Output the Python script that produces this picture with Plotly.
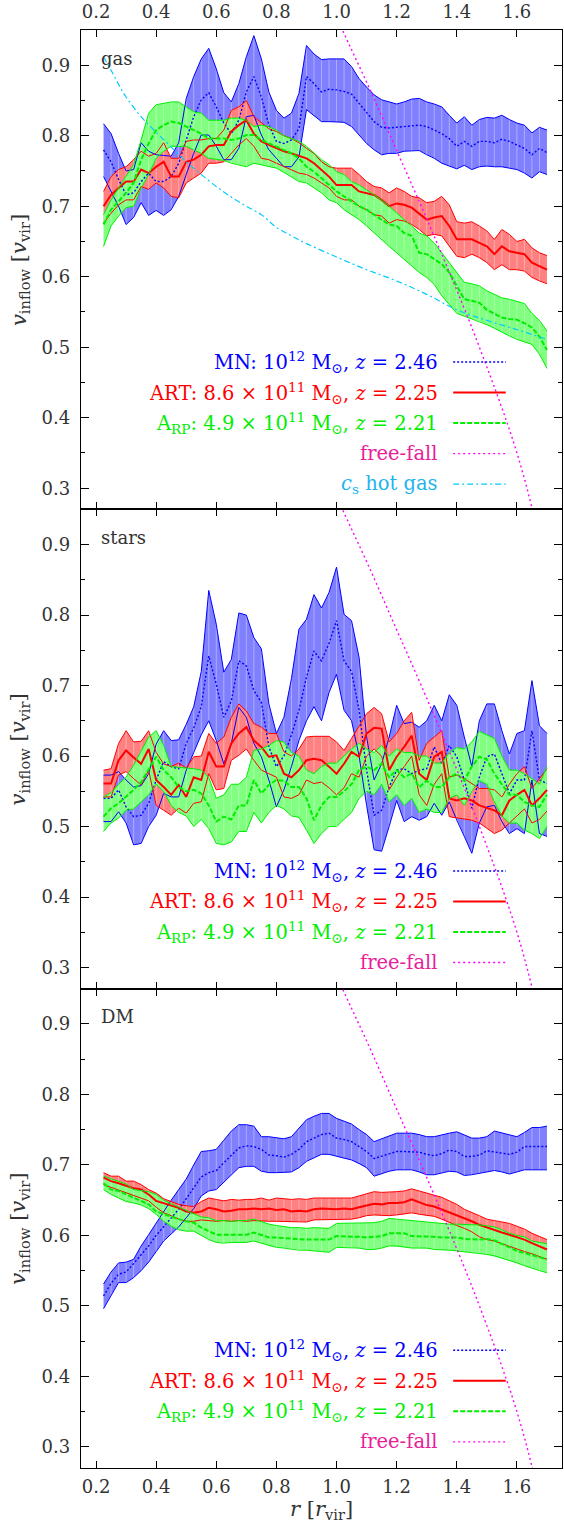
import plotly.graph_objects as go

# ---------------- data ----------------
r = [0.225, 0.250, 0.275, 0.300, 0.325, 0.350, 0.375, 0.400, 0.425, 0.450,
     0.475, 0.500, 0.525, 0.550, 0.575, 0.600, 0.625, 0.650, 0.675, 0.700,
     0.725, 0.750, 0.775, 0.800, 0.825, 0.850, 0.875, 0.900, 0.925, 0.950,
     0.975, 1.000, 1.025, 1.050, 1.075, 1.100, 1.125, 1.150, 1.175, 1.200,
     1.225, 1.250, 1.275, 1.300, 1.325, 1.350, 1.375, 1.400, 1.425, 1.450,
     1.475, 1.500, 1.525, 1.550, 1.575, 1.600, 1.625, 1.650, 1.675, 1.700]

# gas
gas_blue_hi = [0.817, 0.803, 0.775, 0.750, 0.752, 0.790, 0.778, 0.773, 0.772, 0.771,
               0.790, 0.853, 0.884, 0.909, 0.924, 0.895, 0.861, 0.848, 0.874, 0.912,
               0.942, 0.909, 0.862, 0.836, 0.825, 0.832, 0.860, 0.928, 0.916, 0.908,
               0.909, 0.909, 0.909, 0.898, 0.881, 0.869, 0.858, 0.851, 0.848, 0.845,
               0.848, 0.852, 0.853, 0.848, 0.845, 0.841, 0.829, 0.818, 0.827, 0.815,
               0.823, 0.826, 0.825, 0.829, 0.823, 0.818, 0.815, 0.804, 0.812, 0.808]
gas_blue_mid = [0.780, 0.763, 0.738, 0.716, 0.719, 0.735, 0.747, 0.735, 0.735, 0.742,
                0.761, 0.794, 0.827, 0.851, 0.861, 0.841, 0.818, 0.803, 0.822, 0.862,
                0.884, 0.855, 0.815, 0.792, 0.789, 0.794, 0.810, 0.884, 0.874, 0.862,
                0.866, 0.865, 0.863, 0.859, 0.846, 0.832, 0.820, 0.812, 0.811, 0.812,
                0.813, 0.815, 0.815, 0.813, 0.808, 0.803, 0.796, 0.785, 0.792, 0.785,
                0.792, 0.792, 0.790, 0.795, 0.792, 0.787, 0.782, 0.773, 0.782, 0.776]
gas_blue_lo = [0.742, 0.721, 0.700, 0.674, 0.684, 0.705, 0.687, 0.694, 0.687, 0.695,
               0.714, 0.745, 0.775, 0.801, 0.801, 0.785, 0.766, 0.766, 0.782, 0.827,
               0.829, 0.801, 0.780, 0.768, 0.756, 0.756, 0.770, 0.837, 0.829, 0.820,
               0.820, 0.820, 0.819, 0.813, 0.801, 0.789, 0.780, 0.773, 0.775, 0.775,
               0.778, 0.779, 0.779, 0.773, 0.768, 0.761, 0.757, 0.753, 0.758, 0.752,
               0.756, 0.757, 0.756, 0.756, 0.754, 0.752, 0.747, 0.740, 0.749, 0.745]

gas_red_hi = [0.721, 0.742, 0.752, 0.756, 0.766, 0.778, 0.771, 0.775, 0.790, 0.768,
              0.768, 0.792, 0.794, 0.794, 0.796, 0.796, 0.808, 0.836, 0.841, 0.850,
              0.827, 0.818, 0.810, 0.806, 0.800, 0.796, 0.790, 0.782, 0.775, 0.763,
              0.756, 0.754, 0.754, 0.754, 0.745, 0.735, 0.728, 0.726, 0.719, 0.726,
              0.721, 0.714, 0.712, 0.705, 0.707, 0.714, 0.702, 0.678, 0.676, 0.678,
              0.672, 0.665, 0.653, 0.667, 0.660, 0.650, 0.653, 0.641, 0.634, 0.630]
gas_red_mid = [0.700, 0.716, 0.726, 0.735, 0.735, 0.752, 0.747, 0.756, 0.763, 0.742,
               0.742, 0.763, 0.766, 0.773, 0.785, 0.787, 0.787, 0.806, 0.815, 0.822,
               0.803, 0.792, 0.787, 0.782, 0.778, 0.775, 0.771, 0.768, 0.761, 0.752,
               0.742, 0.730, 0.730, 0.730, 0.721, 0.719, 0.716, 0.709, 0.700, 0.704,
               0.702, 0.698, 0.690, 0.681, 0.684, 0.686, 0.672, 0.653, 0.653, 0.653,
               0.648, 0.643, 0.632, 0.643, 0.636, 0.634, 0.632, 0.620, 0.615, 0.610]
gas_red_lo = [0.676, 0.690, 0.702, 0.709, 0.709, 0.728, 0.724, 0.733, 0.726, 0.714,
              0.712, 0.733, 0.740, 0.747, 0.761, 0.761, 0.763, 0.775, 0.787, 0.796,
              0.785, 0.768, 0.766, 0.761, 0.756, 0.752, 0.747, 0.745, 0.740, 0.733,
              0.726, 0.714, 0.709, 0.709, 0.700, 0.695, 0.688, 0.686, 0.676, 0.681,
              0.679, 0.674, 0.667, 0.658, 0.660, 0.658, 0.643, 0.629, 0.627, 0.632,
              0.627, 0.620, 0.610, 0.617, 0.610, 0.610, 0.608, 0.599, 0.594, 0.590]

gas_green_hi = [0.688, 0.709, 0.726, 0.742, 0.759, 0.794, 0.832, 0.844, 0.846, 0.848,
                0.848, 0.841, 0.834, 0.832, 0.822, 0.822, 0.822, 0.825, 0.825, 0.822,
                0.813, 0.815, 0.813, 0.808, 0.800, 0.796, 0.792, 0.785, 0.775, 0.766,
                0.759, 0.749, 0.745, 0.735, 0.730, 0.723, 0.716, 0.709, 0.700, 0.690,
                0.681, 0.672, 0.662, 0.658, 0.648, 0.634, 0.620, 0.606, 0.592, 0.590,
                0.587, 0.580, 0.575, 0.570, 0.568, 0.565, 0.562, 0.548, 0.538, 0.523]
gas_green_mid = [0.674, 0.695, 0.707, 0.719, 0.733, 0.766, 0.789, 0.808, 0.815, 0.820,
                 0.818, 0.813, 0.808, 0.803, 0.796, 0.796, 0.796, 0.794, 0.796, 0.801,
                 0.801, 0.794, 0.789, 0.785, 0.780, 0.775, 0.768, 0.756, 0.749, 0.740,
                 0.730, 0.721, 0.714, 0.707, 0.700, 0.695, 0.688, 0.681, 0.674, 0.672,
                 0.662, 0.658, 0.634, 0.632, 0.625, 0.618, 0.606, 0.588, 0.568, 0.566,
                 0.563, 0.553, 0.547, 0.542, 0.540, 0.539, 0.534, 0.528, 0.515, 0.496]
gas_green_lo = [0.643, 0.672, 0.686, 0.698, 0.700, 0.726, 0.745, 0.768, 0.778, 0.785,
                0.785, 0.785, 0.780, 0.775, 0.768, 0.766, 0.765, 0.761, 0.759, 0.756,
                0.761, 0.759, 0.756, 0.754, 0.748, 0.742, 0.735, 0.733, 0.726, 0.719,
                0.709, 0.705, 0.695, 0.688, 0.681, 0.672, 0.662, 0.653, 0.643, 0.634,
                0.625, 0.615, 0.606, 0.599, 0.589, 0.573, 0.560, 0.548, 0.544, 0.540,
                0.537, 0.532, 0.527, 0.521, 0.516, 0.511, 0.507, 0.504, 0.490, 0.470]

# stars
stars_blue_hi = [0.573, 0.573, 0.578, 0.566, 0.556, 0.558, 0.575, 0.617, 0.636, 0.622,
                 0.623, 0.645, 0.670, 0.720, 0.835, 0.787, 0.719, 0.737, 0.803, 0.800,
                 0.768, 0.752, 0.674, 0.632, 0.655, 0.710, 0.780, 0.794, 0.829, 0.810,
                 0.832, 0.868, 0.801, 0.792, 0.740, 0.627, 0.566, 0.589, 0.627, 0.672,
                 0.646, 0.648, 0.641, 0.650, 0.672, 0.650, 0.687, 0.672, 0.627, 0.585,
                 0.650, 0.674, 0.674, 0.636, 0.603, 0.632, 0.636, 0.707, 0.643, 0.632]
stars_blue_mid = [0.540, 0.540, 0.552, 0.528, 0.514, 0.516, 0.533, 0.566, 0.592, 0.585,
                  0.582, 0.618, 0.640, 0.670, 0.742, 0.702, 0.655, 0.678, 0.735, 0.728,
                  0.693, 0.676, 0.613, 0.585, 0.600, 0.630, 0.665, 0.712, 0.749, 0.735,
                  0.760, 0.792, 0.735, 0.720, 0.665, 0.580, 0.516, 0.523, 0.556, 0.580,
                  0.582, 0.575, 0.580, 0.582, 0.613, 0.589, 0.615, 0.599, 0.566, 0.526,
                  0.570, 0.599, 0.603, 0.575, 0.547, 0.566, 0.566, 0.636, 0.566, 0.561]
stars_blue_lo = [0.507, 0.507, 0.521, 0.505, 0.474, 0.476, 0.500, 0.516, 0.547, 0.542,
                 0.542, 0.580, 0.605, 0.630, 0.650, 0.622, 0.589, 0.618, 0.669, 0.655,
                 0.618, 0.599, 0.566, 0.528, 0.552, 0.585, 0.622, 0.650, 0.670, 0.650,
                 0.690, 0.716, 0.665, 0.650, 0.600, 0.530, 0.467, 0.465, 0.500, 0.537,
                 0.507, 0.514, 0.509, 0.514, 0.533, 0.516, 0.535, 0.509, 0.486, 0.462,
                 0.505, 0.528, 0.530, 0.507, 0.490, 0.497, 0.490, 0.566, 0.490, 0.486]

stars_red_hi = [0.580, 0.582, 0.618, 0.636, 0.620, 0.621, 0.636, 0.605, 0.589, 0.585,
                0.590, 0.583, 0.599, 0.600, 0.632, 0.618, 0.627, 0.655, 0.674, 0.664,
                0.646, 0.641, 0.632, 0.632, 0.606, 0.600, 0.610, 0.627, 0.628, 0.628,
                0.628, 0.620, 0.608, 0.625, 0.643, 0.660, 0.669, 0.660, 0.620, 0.632,
                0.650, 0.662, 0.594, 0.618, 0.627, 0.636, 0.570, 0.573, 0.568, 0.561,
                0.554, 0.554, 0.552, 0.542, 0.560, 0.575, 0.585, 0.554, 0.568, 0.582]
stars_red_mid = [0.561, 0.561, 0.594, 0.608, 0.598, 0.589, 0.610, 0.566, 0.556, 0.545,
                 0.559, 0.542, 0.570, 0.566, 0.606, 0.585, 0.585, 0.618, 0.632, 0.641,
                 0.622, 0.613, 0.599, 0.601, 0.575, 0.570, 0.580, 0.594, 0.596, 0.594,
                 0.585, 0.575, 0.589, 0.606, 0.599, 0.632, 0.640, 0.639, 0.580, 0.599,
                 0.613, 0.629, 0.575, 0.566, 0.599, 0.606, 0.540, 0.537, 0.540, 0.537,
                 0.530, 0.526, 0.523, 0.516, 0.537, 0.545, 0.552, 0.530, 0.540, 0.552]
stars_red_lo = [0.542, 0.542, 0.573, 0.578, 0.568, 0.559, 0.580, 0.530, 0.523, 0.516,
                0.526, 0.519, 0.533, 0.535, 0.575, 0.552, 0.554, 0.594, 0.601, 0.610,
                0.594, 0.580, 0.575, 0.570, 0.542, 0.540, 0.545, 0.566, 0.561, 0.563,
                0.555, 0.545, 0.555, 0.575, 0.570, 0.600, 0.610, 0.600, 0.552, 0.570,
                0.585, 0.600, 0.545, 0.530, 0.560, 0.575, 0.514, 0.512, 0.510, 0.509,
                0.505, 0.498, 0.490, 0.495, 0.505, 0.515, 0.525, 0.505, 0.510, 0.522]

stars_green_hi = [0.542, 0.548, 0.560, 0.570, 0.587, 0.608, 0.627, 0.636, 0.615, 0.585,
                  0.584, 0.584, 0.582, 0.580, 0.570, 0.540, 0.545, 0.560, 0.560, 0.570,
                  0.608, 0.610, 0.615, 0.622, 0.620, 0.605, 0.600, 0.580, 0.575, 0.585,
                  0.590, 0.590, 0.600, 0.610, 0.618, 0.610, 0.605, 0.615, 0.600, 0.610,
                  0.605, 0.605, 0.600, 0.600, 0.590, 0.590, 0.605, 0.612, 0.610, 0.620,
                  0.635, 0.630, 0.625, 0.600, 0.580, 0.580, 0.575, 0.568, 0.560, 0.585]
stars_green_mid = [0.514, 0.526, 0.533, 0.542, 0.552, 0.563, 0.580, 0.599, 0.580, 0.570,
                   0.556, 0.550, 0.552, 0.547, 0.530, 0.507, 0.514, 0.510, 0.530, 0.530,
                   0.566, 0.547, 0.559, 0.566, 0.565, 0.556, 0.556, 0.540, 0.509, 0.530,
                   0.542, 0.542, 0.550, 0.560, 0.580, 0.585, 0.580, 0.589, 0.570, 0.580,
                   0.570, 0.575, 0.556, 0.565, 0.556, 0.556, 0.570, 0.575, 0.565, 0.585,
                   0.599, 0.595, 0.575, 0.560, 0.545, 0.545, 0.535, 0.530, 0.528, 0.545]
stars_green_lo = [0.493, 0.505, 0.512, 0.523, 0.525, 0.535, 0.545, 0.560, 0.550, 0.530,
                  0.520, 0.515, 0.500, 0.510, 0.497, 0.476, 0.474, 0.478, 0.493, 0.493,
                  0.520, 0.505, 0.520, 0.530, 0.525, 0.515, 0.513, 0.495, 0.476, 0.490,
                  0.500, 0.500, 0.510, 0.520, 0.540, 0.550, 0.545, 0.560, 0.535, 0.545,
                  0.530, 0.540, 0.520, 0.525, 0.520, 0.520, 0.540, 0.545, 0.530, 0.550,
                  0.565, 0.560, 0.535, 0.515, 0.505, 0.505, 0.495, 0.490, 0.483, 0.500]

# DM
dm_blue_hi = [0.531, 0.548, 0.561, 0.562, 0.566, 0.585, 0.601, 0.618, 0.635, 0.650,
              0.665, 0.680, 0.700, 0.719, 0.720, 0.722, 0.735, 0.748, 0.757, 0.757,
              0.755, 0.740, 0.740, 0.738, 0.737, 0.740, 0.752, 0.764, 0.769, 0.773,
              0.773, 0.766, 0.762, 0.758, 0.750, 0.743, 0.733, 0.737, 0.740, 0.745,
              0.745, 0.745, 0.743, 0.740, 0.740, 0.743, 0.745, 0.747, 0.743, 0.738,
              0.738, 0.740, 0.748, 0.745, 0.742, 0.740, 0.746, 0.753, 0.753, 0.755]
dm_blue_mid = [0.514, 0.532, 0.545, 0.548, 0.560, 0.572, 0.585, 0.600, 0.612, 0.624,
               0.637, 0.652, 0.667, 0.683, 0.689, 0.692, 0.703, 0.714, 0.724, 0.727,
               0.726, 0.722, 0.714, 0.713, 0.711, 0.715, 0.722, 0.733, 0.738, 0.743,
               0.745, 0.738, 0.736, 0.733, 0.726, 0.719, 0.709, 0.712, 0.715, 0.719,
               0.719, 0.718, 0.718, 0.715, 0.713, 0.716, 0.721, 0.719, 0.712, 0.712,
               0.714, 0.720, 0.718, 0.716, 0.715, 0.718, 0.726, 0.726, 0.726, 0.726]
dm_blue_lo = [0.496, 0.515, 0.533, 0.533, 0.540, 0.550, 0.562, 0.577, 0.592, 0.602,
              0.612, 0.625, 0.638, 0.656, 0.663, 0.665, 0.675, 0.686, 0.696, 0.698,
              0.698, 0.691, 0.689, 0.689, 0.689, 0.690, 0.696, 0.705, 0.710, 0.715,
              0.715, 0.712, 0.709, 0.707, 0.702, 0.696, 0.684, 0.688, 0.691, 0.693,
              0.693, 0.693, 0.690, 0.686, 0.686, 0.689, 0.691, 0.690, 0.685, 0.686,
              0.688, 0.690, 0.692, 0.690, 0.687, 0.690, 0.693, 0.693, 0.693, 0.693]

dm_red_hi = [0.689, 0.684, 0.684, 0.677, 0.677, 0.672, 0.665, 0.660, 0.652, 0.648,
             0.644, 0.642, 0.641, 0.648, 0.653, 0.651, 0.649, 0.651, 0.650, 0.651,
             0.651, 0.653, 0.650, 0.653, 0.652, 0.651, 0.652, 0.651, 0.653, 0.653,
             0.653, 0.653, 0.653, 0.653, 0.656, 0.659, 0.662, 0.661, 0.661, 0.662,
             0.663, 0.666, 0.663, 0.660, 0.658, 0.654, 0.649, 0.644, 0.637, 0.633,
             0.628, 0.623, 0.621, 0.619, 0.617, 0.613, 0.609, 0.603, 0.598, 0.594]
dm_red_mid = [0.682, 0.677, 0.674, 0.670, 0.667, 0.665, 0.658, 0.649, 0.646, 0.642,
              0.639, 0.634, 0.632, 0.634, 0.639, 0.637, 0.634, 0.635, 0.637, 0.637,
              0.638, 0.637, 0.638, 0.636, 0.637, 0.634, 0.635, 0.634, 0.637, 0.638,
              0.637, 0.637, 0.638, 0.637, 0.640, 0.643, 0.645, 0.644, 0.646, 0.646,
              0.647, 0.651, 0.647, 0.643, 0.641, 0.637, 0.632, 0.629, 0.625, 0.620,
              0.615, 0.611, 0.608, 0.604, 0.601, 0.598, 0.594, 0.589, 0.585, 0.580]
dm_red_lo = [0.672, 0.668, 0.665, 0.660, 0.656, 0.653, 0.649, 0.640, 0.632, 0.628,
             0.623, 0.620, 0.620, 0.622, 0.621, 0.620, 0.621, 0.620, 0.621, 0.620,
             0.621, 0.620, 0.620, 0.620, 0.620, 0.619, 0.620, 0.619, 0.622, 0.622,
             0.622, 0.622, 0.623, 0.623, 0.625, 0.628, 0.629, 0.628, 0.628, 0.629,
             0.630, 0.632, 0.630, 0.628, 0.627, 0.623, 0.618, 0.614, 0.610, 0.605,
             0.598, 0.594, 0.592, 0.588, 0.585, 0.581, 0.577, 0.574, 0.570, 0.566]

dm_green_hi = [0.684, 0.680, 0.676, 0.673, 0.665, 0.663, 0.662, 0.658, 0.650, 0.645,
               0.640, 0.635, 0.630, 0.626, 0.625, 0.621, 0.621, 0.620, 0.621, 0.621,
               0.623, 0.619, 0.616, 0.614, 0.612, 0.611, 0.611, 0.610, 0.611, 0.610,
               0.610, 0.617, 0.617, 0.617, 0.618, 0.617, 0.618, 0.620, 0.624, 0.623,
               0.622, 0.620, 0.620, 0.619, 0.617, 0.616, 0.616, 0.616, 0.615, 0.615,
               0.615, 0.614, 0.612, 0.608, 0.603, 0.600, 0.598, 0.592, 0.590, 0.588]
dm_green_mid = [0.674, 0.665, 0.663, 0.658, 0.653, 0.649, 0.644, 0.634, 0.630, 0.627,
                0.623, 0.620, 0.618, 0.611, 0.606, 0.601, 0.601, 0.601, 0.601, 0.601,
                0.604, 0.601, 0.597, 0.597, 0.596, 0.595, 0.594, 0.594, 0.594, 0.594,
                0.594, 0.599, 0.598, 0.598, 0.598, 0.597, 0.598, 0.599, 0.603, 0.603,
                0.603, 0.599, 0.599, 0.599, 0.598, 0.597, 0.597, 0.597, 0.595, 0.594,
                0.594, 0.595, 0.593, 0.588, 0.583, 0.578, 0.575, 0.572, 0.569, 0.566]
dm_green_lo = [0.665, 0.658, 0.653, 0.648, 0.646, 0.643, 0.638, 0.630, 0.620, 0.613,
               0.608, 0.606, 0.606, 0.600, 0.594, 0.590, 0.589, 0.590, 0.590, 0.590,
               0.592, 0.589, 0.585, 0.583, 0.582, 0.580, 0.579, 0.579, 0.578, 0.577,
               0.576, 0.583, 0.583, 0.583, 0.582, 0.580, 0.580, 0.582, 0.585, 0.585,
               0.583, 0.582, 0.582, 0.582, 0.580, 0.580, 0.579, 0.578, 0.577, 0.576,
               0.575, 0.573, 0.571, 0.568, 0.564, 0.561, 0.557, 0.553, 0.550, 0.547]

# sound speed of hot gas (gas panel only)
cs_r = [0.225, 0.25, 0.275, 0.30, 0.35, 0.40, 0.45, 0.50, 0.55, 0.60, 0.65, 0.70,
        0.75, 0.80, 0.85, 0.90, 1.00, 1.10, 1.20, 1.30, 1.40, 1.50, 1.60, 1.70]
cs_v = [0.912, 0.893, 0.873, 0.855, 0.827, 0.805, 0.784, 0.763, 0.745, 0.728, 0.713, 0.700,
        0.688, 0.670, 0.658, 0.647, 0.628, 0.610, 0.594, 0.575, 0.553, 0.538, 0.525, 0.511]

# free-fall velocity
ff_r = [1.00, 1.05, 1.10, 1.15, 1.20, 1.25, 1.30, 1.35, 1.40, 1.45, 1.50, 1.55, 1.60, 1.65, 1.70]
ff_v = [0.968, 0.922, 0.876, 0.828, 0.779, 0.731, 0.682, 0.632, 0.581, 0.528, 0.472, 0.414, 0.350, 0.272, 0.170]

panel_names = ["gas", "stars", "DM"]
x_ticks = [0.2, 0.4, 0.6, 0.8, 1.0, 1.2, 1.4, 1.6]
y_ticks = [0.3, 0.4, 0.5, 0.6, 0.7, 0.8, 0.9]
y_minor = [0.35, 0.45, 0.55, 0.65, 0.75, 0.85]

legend_labels = [
    "MN: 10<sup>12</sup> M<sub>⊙</sub>, <i>z</i> = 2.46",
    "ART: 8.6 × 10<sup>11</sup> M<sub>⊙</sub>, <i>z</i> = 2.25",
    "A<sub>RP</sub>: 4.9 × 10<sup>11</sup> M<sub>⊙</sub>, <i>z</i> = 2.21",
    "free-fall",
    "<i>c</i><sub>s</sub> hot gas",
]

# ---------------- style ----------------
FONT = "DejaVu Serif"
TXT = "#333333"
BLUE, RED, GREEN = "#0000ff", "#ff0000", "#00ee00"
BLUE_F, RED_F, GREEN_F = "#8080ff", "#ff8080", "#80ff80"
MAG, CYAN = "#ff00ff", "#00ccff"
STRIPE = "rgba(255,255,255,0.35)"
BLUE_DASH, GREEN_DASH, FF_DASH, CS_DASH = "2px,2px", "5px,2px", "2px,3px", "6px,3px,2px,3px"

data = {
    1: dict(blue=(gas_blue_lo, gas_blue_mid, gas_blue_hi),
            red=(gas_red_lo, gas_red_mid, gas_red_hi),
            green=(gas_green_lo, gas_green_mid, gas_green_hi)),
    2: dict(blue=(stars_blue_lo, stars_blue_mid, stars_blue_hi),
            red=(stars_red_lo, stars_red_mid, stars_red_hi),
            green=(stars_green_lo, stars_green_mid, stars_green_hi)),
    3: dict(blue=(dm_blue_lo, dm_blue_mid, dm_blue_hi),
            red=(dm_red_lo, dm_red_mid, dm_red_hi),
            green=(dm_green_lo, dm_green_mid, dm_green_hi)),
}
style = {
    "blue": dict(fill=BLUE_F, line=BLUE, dash=BLUE_DASH, w=1.4),
    "red": dict(fill=RED_F, line=RED, dash="solid", w=2.0),
    "green": dict(fill=GREEN_F, line=GREEN, dash=GREEN_DASH, w=2.0),
}

fig = go.Figure()


def axn(p):
    return ("x", "y") if p == 1 else (f"x{p}", f"y{p}")


for p in (1, 2, 3):
    xa, ya = axn(p)
    for key in ("blue", "red", "green"):
        lo, mid, hi = data[p][key]
        fig.add_trace(go.Scatter(x=r + r[::-1], y=hi + lo[::-1], fill="toself",
                                 fillcolor=style[key]["fill"], line=dict(width=0),
                                 mode="lines", hoverinfo="skip", showlegend=False,
                                 xaxis=xa, yaxis=ya))
        sx, sy = [], []
        for xi, l, h in zip(r[1:-1], lo[1:-1], hi[1:-1]):
            sx += [xi, xi, None]
            sy += [l, h, None]
        fig.add_trace(go.Scatter(x=sx, y=sy, mode="lines",
                                 line=dict(color=STRIPE, width=1),
                                 hoverinfo="skip", showlegend=False, xaxis=xa, yaxis=ya))
    for key in ("blue", "red", "green"):
        lo, mid, hi = data[p][key]
        st = style[key]
        for edge in (lo, hi):
            fig.add_trace(go.Scatter(x=r, y=edge, mode="lines",
                                     line=dict(color=st["line"], width=1),
                                     hoverinfo="skip", showlegend=False, xaxis=xa, yaxis=ya))
        fig.add_trace(go.Scatter(x=r, y=mid, mode="lines",
                                 line=dict(color=st["line"], width=st["w"], dash=st["dash"]),
                                 hoverinfo="skip", showlegend=False, xaxis=xa, yaxis=ya))
    if p == 1:
        fig.add_trace(go.Scatter(x=cs_r, y=cs_v, mode="lines", line_shape="spline",
                                 line=dict(color=CYAN, width=1.2, dash=CS_DASH),
                                 hoverinfo="skip", showlegend=False, xaxis=xa, yaxis=ya))
    fig.add_trace(go.Scatter(x=ff_r, y=ff_v, mode="lines", line_shape="spline",
                             line=dict(color=MAG, width=1.4, dash=FF_DASH),
                             hoverinfo="skip", showlegend=False, xaxis=xa, yaxis=ya))

# ---------------- axes ----------------
domains = {1: [2 / 3, 1.0], 2: [1 / 3, 2 / 3], 3: [0.0, 1 / 3]}
layout = {}
for p in (1, 2, 3):
    s = "" if p == 1 else str(p)
    layout[f"xaxis{s}"] = dict(
        range=[0.15, 1.75], domain=[0, 1], anchor=f"y{s}",
        tickvals=x_ticks, ticktext=[f"{v:.1f}" for v in x_ticks],
        ticks="inside", ticklen=7, tickwidth=1, tickcolor="black",
        showline=True, linecolor="black", linewidth=1.3, mirror="ticks",
        showgrid=False, zeroline=False,
        side="top" if p == 1 else "bottom",
        showticklabels=(p != 2), ticklabelstandoff=(4 if p == 1 else 2),
        tickfont=dict(family=FONT, size=18, color=TXT),
    )
    layout[f"yaxis{s}"] = dict(
        range=[0.27, 0.95], domain=domains[p], anchor=f"x{s}",
        tickvals=y_ticks, ticktext=[f"{v:.1f}" for v in y_ticks],
        ticks="inside", ticklen=8, tickwidth=1, tickcolor="black",
        minor=dict(tickvals=y_minor, ticks="inside", ticklen=4, tickwidth=1, tickcolor="black"),
        showline=True, linecolor="black", linewidth=1.3, mirror="ticks",
        showgrid=False, zeroline=False, ticklabelstandoff=6,
        tickfont=dict(family=FONT, size=18, color=TXT),
    )

annotations = []
shapes = []
legend_style = [
    (BLUE, BLUE, BLUE_DASH, 1.4),
    (RED, RED, "solid", 2.0),
    (GREEN, GREEN, GREEN_DASH, 2.0),
    ("#e8209a", MAG, FF_DASH, 1.4),
    ("#1fb4ee", CYAN, CS_DASH, 1.2),
]
for p in (1, 2, 3):
    xa, ya = axn(p)
    annotations.append(dict(x=0.21, y=0.91, xref=xa, yref=ya, text=panel_names[p - 1],
                            showarrow=False, xanchor="left", yanchor="middle",
                            font=dict(family=FONT, size=18, color=TXT)))
    dom = domains[p]
    annotations.append(dict(x=-0.128, y=(dom[0] + dom[1]) / 2, xref="paper", yref="paper",
                            text="<i>v</i><sub>inflow</sub> [<i>v</i><sub>vir</sub>]",
                            textangle=-90, showarrow=False, xanchor="center", yanchor="middle",
                            font=dict(family=FONT, size=21, color=TXT)))
    n = 5 if p == 1 else 4
    y0 = 0.479 if p == 1 else 0.437
    for i in range(n):
        yy = y0 - 0.0433 * i
        tcol, lcol, dash, w = legend_style[i]
        annotations.append(dict(x=1.343, y=yy, xref=xa, yref=ya, text=legend_labels[i],
                                showarrow=False, xanchor="right", yanchor="middle",
                                font=dict(family=FONT, size=19.5, color=tcol)))
        shapes.append(dict(type="line", xref=xa, yref=ya, x0=1.388, x1=1.563, y0=yy, y1=yy,
                           line=dict(color=lcol, width=w, dash=dash)))

annotations.append(dict(x=0.5, y=-0.029, xref="paper", yref="paper",
                        text="<i>r</i> [<i>r</i><sub>vir</sub>]", showarrow=False,
                        xanchor="center", yanchor="middle",
                        font=dict(family=FONT, size=21, color=TXT)))

fig.update_layout(
    width=564, height=1523,
    margin=dict(l=81, r=1, t=23, b=55),
    paper_bgcolor="white", plot_bgcolor="white",
    showlegend=False,
    annotations=annotations, shapes=shapes,
    **layout,
)

fig.write_html("out.html")
